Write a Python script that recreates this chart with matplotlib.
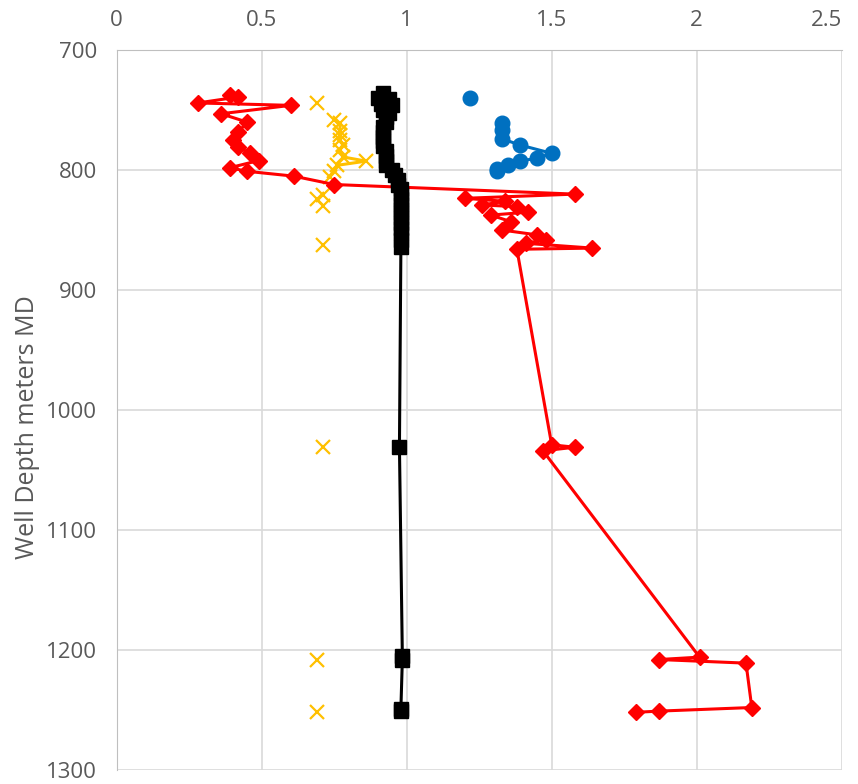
import numpy as np
import matplotlib
matplotlib.use("Agg")
import matplotlib.pyplot as plt

plt.rcParams['font.family'] = ['Open Sans', 'DejaVu Sans']

# red series (diamonds, joined)
red_x = [0.39, 0.42, 0.28, 0.60, 0.36, 0.45, 0.42, 0.40, 0.42, 0.46, 0.49, 0.39, 0.45,
         0.61, 0.75, 1.58, 1.20, 1.34, 1.26, 1.38, 1.42, 1.29, 1.36, 1.33, 1.45, 1.48,
         1.41, 1.64, 1.38, 1.50, 1.58, 1.47, 2.01, 1.87, 2.17, 2.19, 1.87, 1.79]
red_d = [737, 739, 744, 746, 753, 760, 768, 775, 781, 786, 792, 798, 801,
         805, 812, 820, 823.5, 826, 829, 830.5, 835, 837.5, 843, 850, 854, 858,
         861, 865, 866, 1029, 1031, 1034, 1206, 1208, 1211, 1248, 1251, 1252]

# blue series (circles), first point stands alone
blue_x = [1.22, np.nan, 1.33, 1.33, 1.33, 1.39, 1.50, 1.45, 1.39, 1.35, 1.31, 1.31]
blue_d = [740, np.nan, 760.5, 766.5, 774, 779, 786, 790, 792.5, 796, 799, 801]

# orange series (x marks), gaps break the line
orange_x = [0.69, np.nan, 0.75, 0.77, 0.77, 0.77, 0.77, 0.78, 0.77, 0.78, 0.86, 0.76,
            0.75, 0.735, np.nan, 0.71, np.nan, 0.69, np.nan, 0.71, np.nan, 0.71,
            np.nan, 0.71, np.nan, 0.69, np.nan, 0.69]
orange_d = [744, np.nan, 758, 761, 767, 771, 775, 779, 783, 789, 792.5, 796,
            800.5, 805.5, np.nan, 821, np.nan, 824, np.nan, 830, np.nan, 862.5,
            np.nan, 1031, np.nan, 1208, np.nan, 1252]

# black series (squares, joined)
black_x = [0.92, 0.90, 0.94, 0.91, 0.95, 0.92, 0.94, 0.93, 0.93, 0.92, 0.92, 0.92,
           0.92, 0.92, 0.93, 0.93, 0.93, 0.93, 0.95, 0.96, 0.97, 0.97, 0.98, 0.98,
           0.98, 0.98, 0.98, 0.98, 0.98, 0.98, 0.98, 0.98, 0.98, 0.98,
           0.975, 0.985, 0.985, 0.98, 0.98]
black_d = [736, 740, 741, 745, 746, 750, 752, 756, 760, 764, 768, 772,
           776, 780, 784, 788, 792, 796, 800, 804, 808, 812, 816, 820,
           824, 828, 832, 836, 840, 844, 848, 852, 858, 864,
           1031, 1205, 1208, 1249, 1251]

xticks = [0, 0.5, 1, 1.5, 2, 2.5]
xlabels = ["0", "0.5", "1", "1.5", "2", "2.5"]
yticks = [700, 800, 900, 1000, 1100, 1200, 1300]

fig = plt.figure(figsize=(8.58, 7.84), dpi=100)
ax = fig.add_axes([0.136, 0.018, 0.845, 0.918])

ax.plot(orange_x, orange_d, color="#FFC000", marker="x", markersize=10.5,
        markeredgewidth=1.6, linewidth=2.2, zorder=3)
ax.plot(red_x, red_d, color="#FF0000", marker="D", markersize=8.5,
        linewidth=2.2, zorder=4)
ax.plot(blue_x, blue_d, color="#0070C0", marker="o", markersize=10.5,
        linewidth=2.2, zorder=5)
ax.plot(black_x, black_d, color="black", marker="s", markersize=9.5,
        linewidth=2.2, zorder=6)

ax.set_xlim(0, 2.5)
ax.set_ylim(1300, 700)
ax.set_xticks(xticks)
ax.set_xticklabels(xlabels)
ax.set_yticks(yticks)
ax.xaxis.tick_top()
ax.tick_params(axis="both", length=0, labelsize=16, labelcolor="#595959")
ax.tick_params(axis="x", pad=14)
ax.tick_params(axis="y", pad=14)
ax.get_xticklabels()[-1].set_ha("right")
ax.grid(True, color="#D9D9D9", linewidth=1.2)
ax.set_axisbelow(True)
for side in ["right", "bottom"]:
    ax.spines[side].set_visible(False)
ax.spines["left"].set_color("#BFBFBF")
ax.spines["top"].set_color("#BFBFBF")

fig.text(28 / 858, 1 - 427 / 784, "Well Depth meters MD", rotation=90,
         ha="center", va="center", fontsize=18, color="#595959")

fig.savefig("out.png", dpi=100)
